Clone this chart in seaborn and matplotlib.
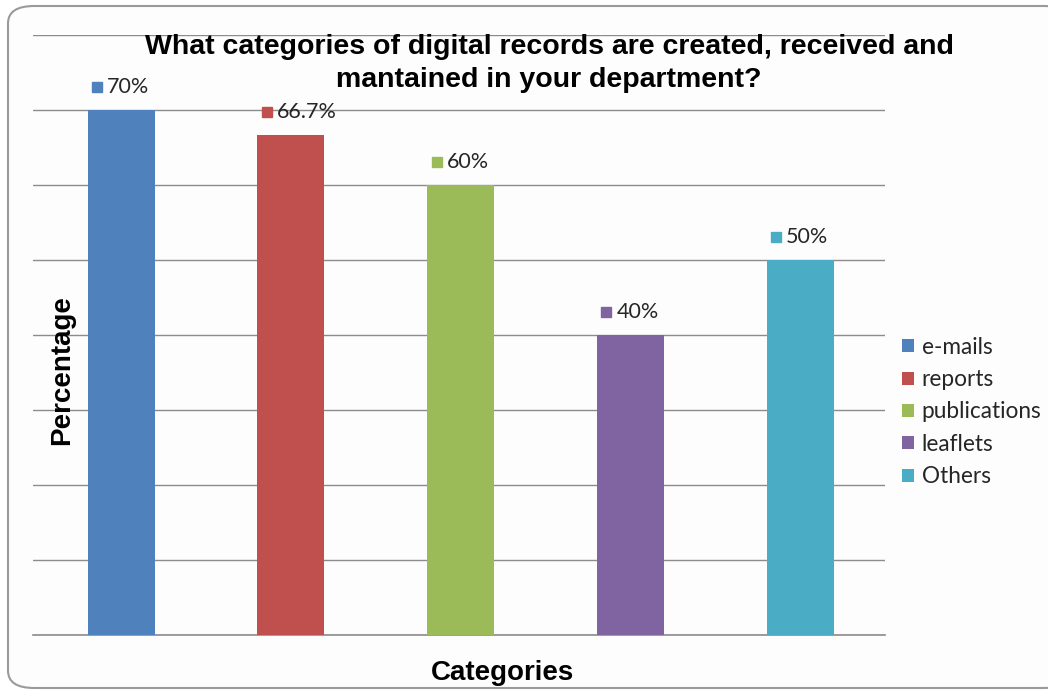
import matplotlib
matplotlib.use("Agg")
import matplotlib.pyplot as plt
import matplotlib.transforms as mtransforms
from matplotlib.patches import FancyBboxPatch, Patch
import seaborn as sns
import pandas as pd

categories = ["e-mails", "reports", "publications", "leaflets", "Others"]
values = [70, 66.7, 60, 40, 50]
value_labels = ["70%", "66.7%", "60%", "40%", "50%"]
colors = ["#4F81BD", "#C0504D", "#9BBB59", "#8064A2", "#4BACC6"]

sns.set_theme(style="white")
plt.rcParams["font.family"] = ["Liberation Sans", "DejaVu Sans"]

W, H = 1048, 696
fig = plt.figure(figsize=(W / 100, H / 100), dpi=100)
fig.patch.set_facecolor("white")

# rounded frame
frame = FancyBboxPatch((8 / W, 8 / H), (1070 - 8) / W, (690 - 8) / H,
                       boxstyle="round,pad=0,rounding_size=0.025",
                       transform=fig.transFigure, facecolor="#fdfdfd",
                       edgecolor="#9a9a9a", linewidth=1.5, zorder=-10)
fig.patches.append(frame)

ax = fig.add_axes([33 / W, 1 - 635 / H, (885 - 33) / W, (635 - 35) / H])
ax.set_facecolor("none")
ax.set_zorder(1)

df = pd.DataFrame({"cat": categories, "val": values})
sns.barplot(data=df, x="cat", y="val", hue="cat", palette=colors,
            order=categories, hue_order=categories, width=0.395,
            legend=False, ax=ax, saturation=1, zorder=3, linewidth=0)

ax.set_ylim(0, 80)
ax.set_xlim(-0.52, len(categories) - 0.5)
ax.set_yticks(range(0, 81, 10))
ax.yaxis.grid(True, color="#8c8c8c", linewidth=1.0)
ax.set_axisbelow(True)
ax.set_xticks([])
ax.tick_params(axis="y", labelleft=False, length=0)
for s in ["left", "right", "top"]:
    ax.spines[s].set_visible(False)
ax.spines["bottom"].set_color("#8c8c8c")
ax.spines["bottom"].set_linewidth(1.2)
ax.set_xlabel("")
ax.set_ylabel("")

# data labels with colored squares
for i, (v, lab, c) in enumerate(zip(values, value_labels, colors)):
    tr_m = mtransforms.offset_copy(ax.transData, fig=fig, x=-24 * 0.72, y=23 * 0.72, units="points")
    ax.plot([i], [v], marker="s", markersize=7.2, color=c, transform=tr_m,
            clip_on=False, zorder=5, linestyle="none")
    ax.annotate(lab, xy=(i, v), xytext=(-14 * 0.72, 23 * 0.72), textcoords="offset points",
                ha="left", va="center", fontsize=15.5, family=["Lato", "DejaVu Sans"],
                color="#262626", zorder=5)

# title
fig.text(549 / W, 1 - 47 / H, "What categories of digital records are created, received and",
         ha="center", va="center", fontsize=20.5, fontweight="bold", color="black")
fig.text(549 / W, 1 - 80 / H, "mantained in your department?",
         ha="center", va="center", fontsize=20.5, fontweight="bold", color="black")

# axis labels
fig.text(62 / W, 1 - 370 / H, "Percentage", rotation=90, ha="center", va="center",
         fontsize=20, fontweight="bold", color="black")
fig.text(502 / W, 1 - 673 / H, "Categories", ha="center", va="center",
         fontsize=20, fontweight="bold", color="black")

# legend
handles = [Patch(facecolor=c, edgecolor="none") for c in colors]
fig.legend(handles, categories, loc="center left", bbox_to_anchor=(902 / W, 1 - 412 / H),
           frameon=False, prop={"family": ["Lato", "DejaVu Sans"], "size": 16.3},
           handlelength=0.52, handleheight=0.52, handletextpad=0.35,
           labelspacing=0.5, borderaxespad=0, borderpad=0)

fig.savefig("out.png", dpi=100)
